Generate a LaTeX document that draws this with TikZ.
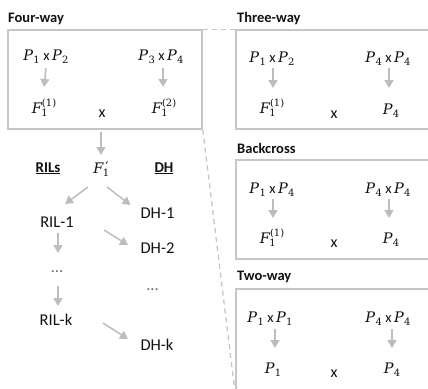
\documentclass[tikz,border=0pt]{standalone}
\usepackage{fontspec}
\setmainfont{Carlito}
\newfontfamily\vf{DejaVu Serif}
\usetikzlibrary{arrows.meta}
\definecolor{boxgray}{HTML}{C6C6C6}
\definecolor{arrgray}{HTML}{BDBDBD}
\definecolor{txt}{HTML}{111111}
\definecolor{dotgray}{HTML}{666666}
\newcommand\smallfig[1]{{\fontsize{10}{10}\selectfont\vf #1}}
\newcommand\Pv[1]{{\vf\itshape P}\kern0.3pt\raisebox{-3.5pt}{\smallfig{#1}}}
\newcommand\Fs[1]{{\vf\itshape F}\kern-0.5pt\rlap{\raisebox{-3.8pt}{\smallfig{1}}}\kern0.6pt\raisebox{6.2pt}{\smallfig{(#1)}}}
\newcommand\Fp{{\vf\itshape F}\kern-0.5pt\rlap{\raisebox{-3.8pt}{\smallfig{1}}}\kern2.6pt\raisebox{0.8pt}{\vf ′}}
\newcommand\cx{\kern3.5pt x\kern2.5pt}
\begin{document}
\begin{tikzpicture}[x=1pt,y=-1pt,
  box/.style={draw=boxgray,line width=1.6pt,inner sep=0pt},
  arr/.style={draw=arrgray,line width=1.5pt,-{Triangle[width=9pt,length=8pt]}},
  dashline/.style={draw=boxgray,line width=1.3pt,dash pattern=on 5pt off 4pt},
  ttl/.style={font=\fontsize{14.5}{16}\selectfont\bfseries,text=txt,anchor=base west,inner sep=0pt},
  lbl/.style={font=\fontsize{16.5}{18}\selectfont,text=txt,anchor=base,inner sep=0pt},
  dots/.style={font=\fontsize{16.5}{18}\selectfont,text=dotgray,anchor=base,inner sep=0pt},
  mth/.style={font=\fontsize{14.5}{17}\selectfont,text=txt,anchor=base,inner sep=0pt},
  cross/.style={font=\fontsize{16}{18}\selectfont,text=txt,anchor=base,inner sep=0pt},
]
\useasboundingbox (0,0) rectangle (428,388);
\clip (0,0) rectangle (428,388);

% ---------- Four-way ----------
\node[ttl] (t4) at (8,23) {Four-way};
\node[box,minimum width=194pt,minimum height=99pt] (b4) at (105,79.5) {};
\node[mth] (p12) at (46,60) {\Pv{1}\cx\Pv{2}};
\node[mth] (p34) at (161,60) {\Pv{3}\cx\Pv{4}};
\node[mth] (f11) at (44,113) {\Fs{1}};
\node[cross] (x4) at (102,117) {x};
\node[mth] (f12) at (164,113) {\Fs{2}};
\draw[arr] ([yshift=-8pt]p12.base) -- ([yshift=26pt]f11.base);
\draw[arr] ([xshift=2pt,yshift=-8pt]p34.base) -- ([xshift=-1pt,yshift=26pt]f12.base);

% ---------- RILs / DH ----------
\node[mth] (f1p) at (101,173) {\Fp};
\node[lbl,font=\fontsize{15}{17}\selectfont\bfseries] (rils) at (48,172) {\underline{RILs}};
\node[lbl,font=\fontsize{15}{17}\selectfont\bfseries] (dh) at (164,172) {\underline{DH}};
\draw[arr,shorten <=2pt] (b4.south -| f1p.base) -- ([yshift=18pt]f1p.base);

\node[lbl] (ril1) at (57,227) {RIL-1};
\node[lbl] (dh1) at (157.5,218) {DH-1};
\node[lbl] (dh2) at (157.5,253) {DH-2};
\node[dots] (dl) at (57,272) {…};
\node[dots] (dr) at (152.5,290) {…};
\node[lbl] (rilk) at (56,325) {RIL-k};
\node[lbl] (dhk) at (157,350) {DH-k};

\draw[arr] ([xshift=-13pt,yshift=-14pt]f1p.base) -- ([xshift=8pt,yshift=23pt]ril1.base);
\draw[arr] ([xshift=6pt,yshift=-14pt]f1p.base) -- ([xshift=-27pt,yshift=13pt]dh1.base);
\coordinate (s2) at (104,230);
\draw[arr] (s2) -- ([xshift=-29.5pt,yshift=8pt]dh2.base);
\coordinate (sk) at (103,323);
\draw[arr] (sk) -- ([xshift=-29pt,yshift=11pt]dhk.base);
\draw[arr] ([xshift=1pt,yshift=-6pt]ril1.base) -- ([xshift=1pt,yshift=19pt]dl.base);
\draw[arr] ([xshift=1pt,yshift=-14pt]dl.base) -- ([xshift=2pt,yshift=19pt]rilk.base);

% ---------- Three-way ----------
\node[ttl] (t3) at (237,22) {Three-way};
\node[box,minimum width=204pt,minimum height=99pt] (b3) at (338,79.5) {};
\node[mth] (a1) at (272,62) {\Pv{1}\cx\Pv{2}};
\node[mth] (a2) at (388,62) {\Pv{4}\cx\Pv{4}};
\node[mth] (a3) at (272,113) {\Fs{1}};
\node[cross] (a4) at (334,118) {x};
\node[mth] (a5) at (391,114) {\Pv{4}};
\draw[arr] ([xshift=1pt,yshift=-6pt]a1.base) -- ([xshift=1pt,yshift=25pt]a3.base);
\draw[arr] ([xshift=1pt,yshift=-6pt]a2.base) -- ([xshift=-2pt,yshift=26pt]a5.base);

% ---------- Backcross ----------
\node[ttl] (tb) at (237,153) {Backcross};
\node[box,minimum width=204pt,minimum height=99pt] (bb) at (338,209.5) {};
\node[mth] (c1) at (272,193) {\Pv{1}\cx\Pv{4}};
\node[mth] (c2) at (388,193) {\Pv{4}\cx\Pv{4}};
\node[mth] (c3) at (272,243) {\Fs{1}};
\node[cross] (c4) at (334,247) {x};
\node[mth] (c5) at (391,243) {\Pv{4}};
\draw[arr] ([xshift=1pt,yshift=-6pt]c1.base) -- ([xshift=1pt,yshift=25pt]c3.base);
\draw[arr] ([xshift=1pt,yshift=-6pt]c2.base) -- ([xshift=-2pt,yshift=25pt]c5.base);

% ---------- Two-way ----------
\node[ttl] (tt) at (237,280) {Two-way};
\node[box,minimum width=204pt,minimum height=111pt] (bt) at (338,344.5) {};
\node[mth] (d1) at (270,322) {\Pv{1}\cx\Pv{1}};
\node[mth] (d2) at (388,322) {\Pv{4}\cx\Pv{4}};
\node[mth] (d3) at (273,373) {\Pv{1}};
\node[cross] (d4) at (334,377) {x};
\node[mth] (d5) at (392,373) {\Pv{4}};
\draw[arr] ([xshift=5pt,yshift=-7pt]d1.base) -- ([xshift=2pt,yshift=25pt]d3.base);
\draw[arr] ([xshift=4pt,yshift=-7pt]d2.base) -- ([yshift=25pt]d5.base);

% ---------- zoom lines ----------
\coordinate (dashend) at (235,392);
\draw[dashline] (b4.north east) -- (b3.north west);
\draw[dashline] (b4.south east) -- (dashend);
\end{tikzpicture}
\end{document}
